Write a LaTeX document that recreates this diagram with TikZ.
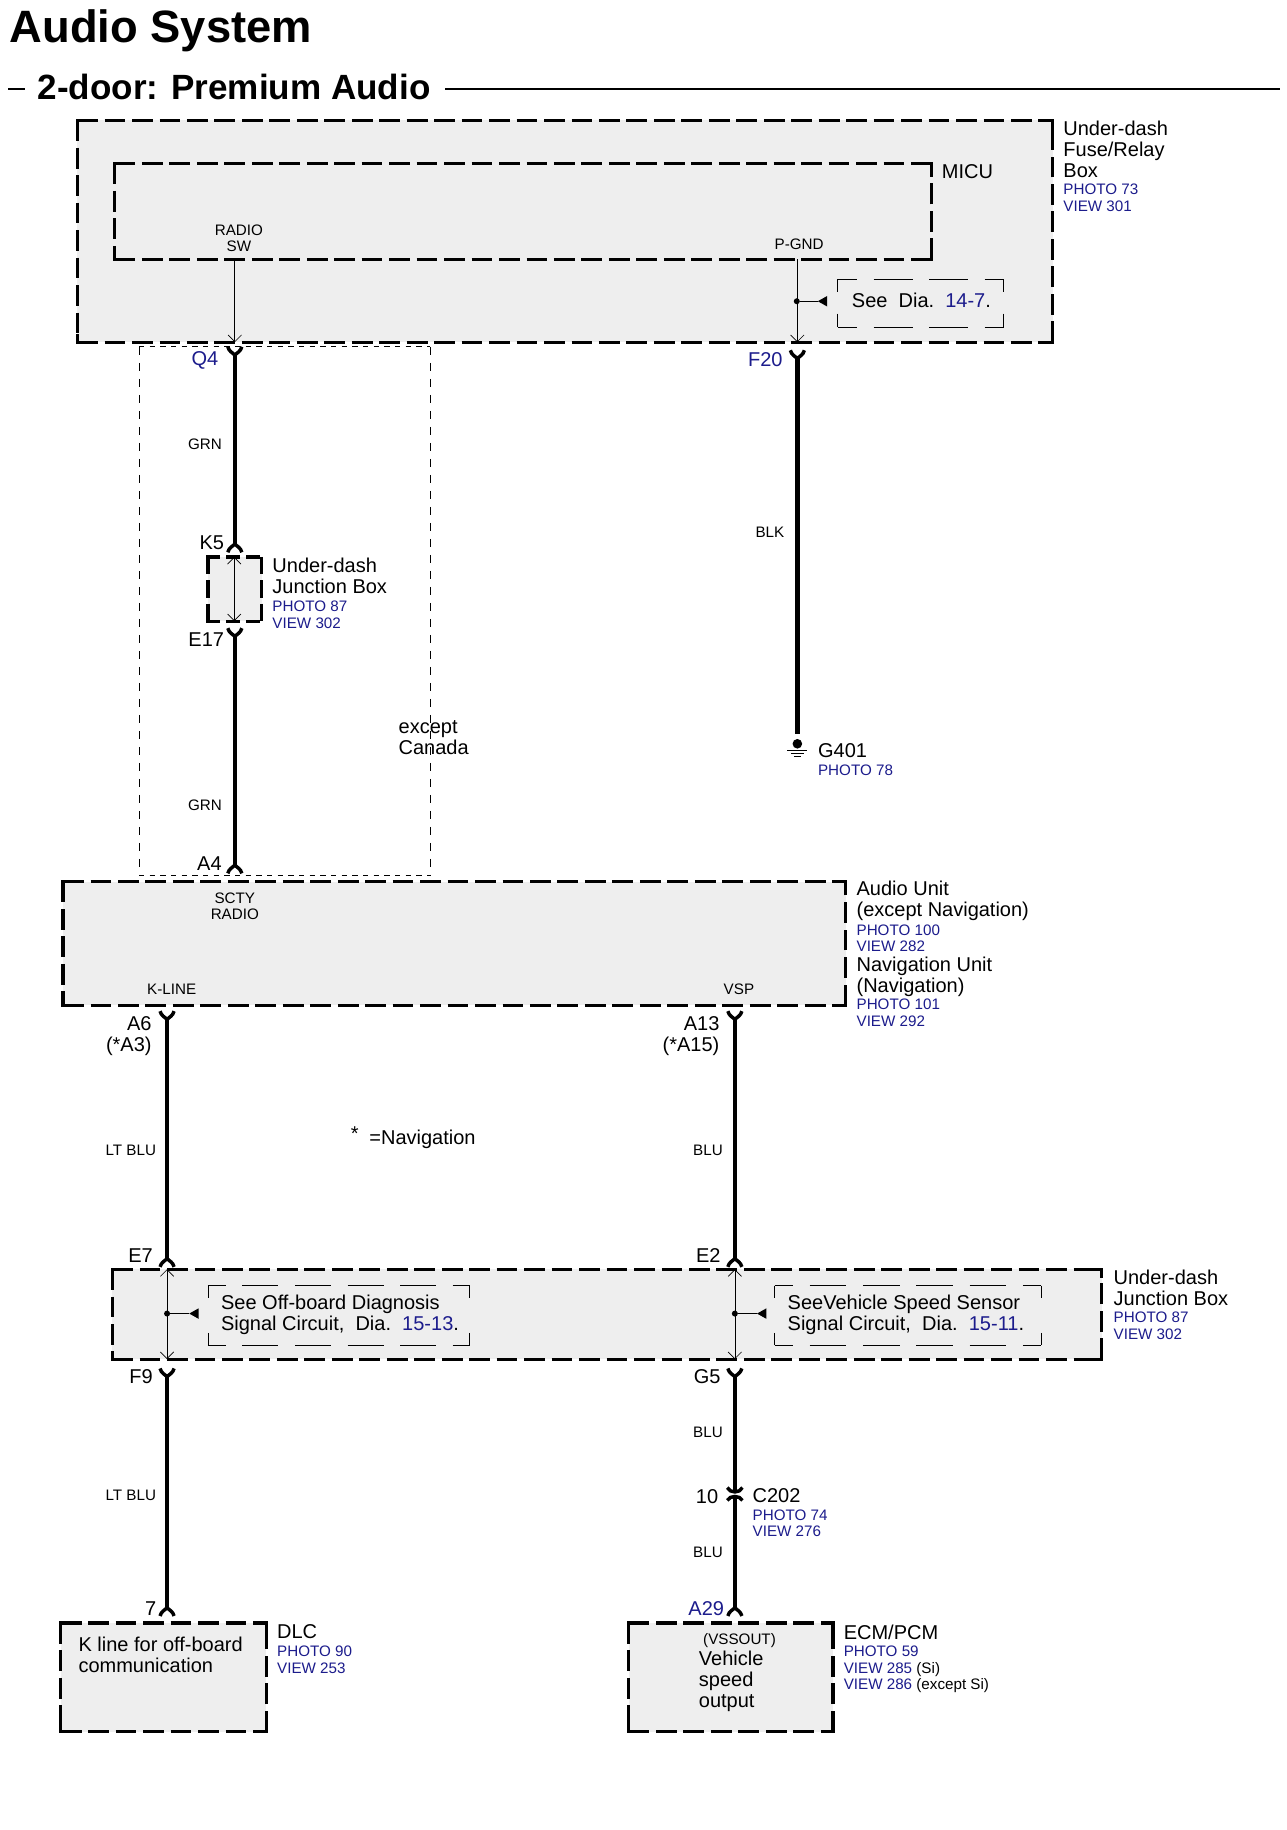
\documentclass[tikz,border=0pt]{standalone}
\usepackage{fontspec}
\setmainfont{Liberation Sans}
\definecolor{bluetxt}{HTML}{1C1C8C}
\definecolor{boxfill}{HTML}{EEEEEE}
\usetikzlibrary{arrows.meta,calc}
\newcommand{\bodysz}{\fontsize{15pt}{15.8pt}\selectfont}
\newcommand{\smallsz}{\fontsize{11.4pt}{12.3pt}\selectfont}
\newcommand{\blu}[1]{\textcolor{bluetxt}{#1}}
\tikzset{
 unitline/.style={draw=black,line width=2.4pt,dash pattern=on 15.6pt off 5pt},
 seeline/.style={draw=black,line width=0.55pt},
 areah/.style={draw=black,line width=0.45pt,dash pattern=on 4pt off 4pt},
 areav/.style={draw=black,line width=0.45pt,dash pattern=on 6pt off 6pt},
 wire/.style={line width=3.4pt},
 thinw/.style={line width=0.5pt,{Straight Barb[length=5pt,width=10pt]}-{Straight Barb[length=5pt,width=10pt]}},
 thinone/.style={line width=0.5pt,-{Straight Barb[length=5pt,width=10pt]}},
 lab/.style={inner sep=0pt,align=left,anchor=north west,font=\bodysz,yshift=-1.3pt},
 sm/.style={inner sep=0pt,align=center,font=\smallsz},
 smblu/.style={inner sep=0pt,align=left,anchor=north west,font=\smallsz,text=bluetxt,yshift=-1.4pt},
 dotn/.style={circle,fill=black,inner sep=0pt,minimum size=4.5pt},
 pinl/.style={inner sep=0pt,anchor=east,align=right,font=\bodysz},
}
\newcommand{\ypin}[1]{\draw[line width=2.6pt] ($(#1)+(-6,-6)$) .. controls ($(#1)+(-5,-2)$) and ($(#1)+(-2,-1)$) .. ($(#1)+(0,1)$) .. controls ($(#1)+(2,-1)$) and ($(#1)+(5,-2)$) .. ($(#1)+(6,-6)$);}
\newcommand{\ysock}[1]{\draw[line width=2.6pt] ($(#1)+(-6,6)$) .. controls ($(#1)+(-5,2)$) and ($(#1)+(-2,1)$) .. ($(#1)+(0,-1)$) .. controls ($(#1)+(2,1)$) and ($(#1)+(5,2)$) .. ($(#1)+(6,6)$);}
% unit box: x1 y1 x2 y2, filled, with dashed sides and solid corners
\newcommand{\unitrect}[4]{%
 \fill[boxfill] (#1,#2) rectangle (#3,#4);
 \draw[unitline] (#1,#2) -- (#3,#2);
 \draw[unitline] (#1,#4) -- (#3,#4);
 \draw[unitline] (#1,#2) -- (#1,#4);
 \draw[unitline] (#3,#4) -- (#3,#2);
 \draw[line width=2.4pt,line cap=rect] (#1,#2+6) -- (#1,#2) -- (#1+6,#2);
 \draw[line width=2.4pt,line cap=rect] (#3-6,#2) -- (#3,#2) -- (#3,#2+6);
 \draw[line width=2.4pt,line cap=rect] (#1,#4-6) -- (#1,#4) -- (#1+6,#4);
 \draw[line width=2.4pt,line cap=rect] (#3-6,#4) -- (#3,#4) -- (#3,#4-6);
}
% see box: x1 y1 x2 y2 hon hoff von voff
\newcommand{\seerect}[8]{%
 \draw[seeline,dash pattern=on #5pt off #6pt,dash phase=#5pt/2] (#1,#2) -- (#3,#2);
 \draw[seeline,dash pattern=on #5pt off #6pt,dash phase=#5pt/2] (#1,#4) -- (#3,#4);
 \draw[seeline,dash pattern=on #7pt off #8pt,dash phase=#7pt/2] (#1,#2) -- (#1,#4);
 \draw[seeline,dash pattern=on #7pt off #8pt,dash phase=#7pt/2] (#3,#2) -- (#3,#4);
}
\begin{document}
\begin{tikzpicture}[x=0.8762pt,y=-0.8757pt]
\useasboundingbox (0,0) rectangle (1100.8,1567.3);
\fill[white] (0,0) rectangle (1100.8,1567.3);
% titles
\node[anchor=base west,inner sep=0pt,font=\fontsize{34pt}{36pt}\selectfont\bfseries] (title) at (8,36.5) {Audio System};
\node[anchor=base west,inner sep=0pt,font=\fontsize{26.3pt}{28pt}\selectfont\bfseries] (sub) at (32,85) {2-door: Premium Audio};
\coordinate (dashL) at (7,76); \coordinate (dashR) at (21,76);
\draw[line width=1.6pt] (dashL) -- (dashR);
\coordinate (ruleL) at (381,76); \coordinate (ruleR) at (1096,76);
\draw[line width=1.6pt] (ruleL) -- (ruleR);
% area
\draw[areah] (119,297) -- (368,297);
\draw[areah] (119,750) -- (368,750);
\draw[areav] (119,297) -- (119,750);
\draw[areav] (368,297) -- (368,750);
% boxes
\unitrect{66}{103}{901}{293}
\unitrect{98}{140}{797}{222}
\fill[boxfill] (178,477) rectangle (224,532);
\draw[line width=2.4pt,dash pattern=on 10pt off 5pt] (176.6,477) -- (225.4,477);
\draw[line width=2.4pt,dash pattern=on 10pt off 5pt] (176.6,532) -- (225.4,532);
\draw[line width=2.4pt,dash pattern=on 13pt off 4.5pt] (178,477) -- (178,532);
\draw[line width=2.4pt,dash pattern=on 13pt off 4.5pt] (224,477) -- (224,532);
\unitrect{54}{755}{724}{861}
\unitrect{96}{1087}{943}{1164}
\unitrect{52}{1390}{228}{1483}
\unitrect{538}{1390}{713}{1483}
% coordinates
\coordinate (q4top) at (201,222); \coordinate (q4b) at (201,293);
\coordinate (q4) at (201,303); \coordinate (k5) at (201,467);
\coordinate (jt) at (200.5,477); \coordinate (jb) at (200.5,532);
\coordinate (e17) at (201,544); \coordinate (a4) at (201,742);
\coordinate (p1) at (682.5,222); \coordinate (p2) at (682.5,293);
\coordinate (f20) at (682.5,306); \coordinate (gtop) at (682.5,629);
% wires
\draw[thinone] (q4top) -- (q4b);
\draw[wire] (q4) -- (k5);
\ypin{q4}\ysock{k5}
\draw[thinw] (jt) -- (jb);
\draw[wire] (e17) -- (a4);
\ypin{e17}\ysock{a4}
\draw[thinone] (p1) -- (p2);
\draw[wire] (f20) -- (gtop);
\ypin{f20}
% ground
\node[circle,fill=black,inner sep=0pt,minimum size=7.2pt] (gnd) at (682.5,637) {};
\coordinate (g1l) at (674,642.6);\coordinate (g1r) at (691,642.6);
\coordinate (g2l) at (677,645.2);\coordinate (g2r) at (688,645.2);
\coordinate (g3l) at (679.5,648);\coordinate (g3r) at (685.5,648);
\draw[line width=.7pt] (g1l)--(g1r); \draw[line width=.7pt] (g2l)--(g2r); \draw[line width=.7pt] (g3l)--(g3r);
% See boxes
\node[dotn] (d1) at (682,258) {};
\coordinate (t1) at (700,258);
\draw[line width=0.6pt] (d1) -- (t1);
\fill (700,258) -- (708,253.5) -- (708,262.5) -- cycle;
\seerect{717}{239}{859}{280}{29.2}{12.4}{20}{16}
\node[lab] (s1) at (729,249) {See\ \ Dia.\ \ \blu{14-7}.};
% lower wires
\coordinate (kl) at (143,872); \coordinate (e7) at (143,1079);
\coordinate (v) at (629,872); \coordinate (e2) at (629,1079);
\draw[wire] (kl)--(e7); \ypin{kl}\ysock{e7}
\draw[wire] (v)--(e2); \ypin{v}\ysock{e2}
\coordinate (jt1) at (143,1087); \coordinate (jb1) at (143,1164);
\coordinate (jt2) at (629,1087); \coordinate (jb2) at (629,1164);
\draw[thinw] (jt1)--(jb1); \draw[thinw] (jt2)--(jb2);
\node[dotn] (d2) at (143,1125) {}; \node[dotn] (d3) at (629,1125) {};
\coordinate (t2) at (162,1125); \coordinate (t3) at (648,1125);
\draw[line width=.6pt] (d2)--(t2); \draw[line width=.6pt] (d3)--(t3);
\fill (162,1125) -- (170,1120.5) -- (170,1129.5) -- cycle;
\fill (648,1125) -- (656,1120.5) -- (656,1129.5) -- cycle;
\seerect{178}{1101}{402}{1152}{27}{12.4}{19}{26}
\seerect{663}{1101}{891}{1152}{27.5}{12.5}{19}{26}
\node[lab] (s2) at (189,1107) {See Off-board Diagnosis\\Signal Circuit,\ \ Dia.\ \ \blu{15-13}.};
\node[lab] (s3) at (674,1107) {SeeVehicle Speed Sensor\\Signal Circuit,\ \ Dia.\ \ \blu{15-11}.};
\coordinate (f9) at (143,1178); \coordinate (seven) at (143,1378);
\coordinate (g5) at (629,1178); \coordinate (c1) at (629,1278); \coordinate (c2) at (629,1282); \coordinate (a29) at (629,1378);
\draw[wire] (f9)--(seven); \ypin{f9}\ysock{seven}
\draw[wire] (g5)--(c1); \ypin{g5}
\draw[line width=2.6pt] (622.5,1274) .. controls (625,1279) and (633,1279) .. (635.5,1274);
\draw[line width=2.6pt] (622.5,1285) .. controls (625,1280.5) and (633,1280.5) .. (635.5,1285);
\draw[wire] (c2)--(a29); \ysock{a29}
% pin labels
\node[sm] (lradio) at (204.5,204) {RADIO\\SW};
\node[sm] (lpg) at (684,209.5) {P-GND};
\node[sm] (lsc) at (201,776) {SCTY\\RADIO};
\node[sm] (lk) at (147,847.5) {K-LINE};
\node[sm] (lv) at (632.5,847.5) {VSP};
\node[sm] (w1) at (175.5,380.5) {GRN};
\node[sm] (w2) at (175.5,689.5) {GRN};
\node[sm] (w3) at (659,456) {BLK};
\node[sm] (w4) at (112,985) {LT BLU};
\node[sm] (w5) at (606,985) {BLU};
\node[sm] (w6) at (112,1281) {LT BLU};
\node[sm] (w7) at (606,1226.5) {BLU};
\node[sm] (w8) at (606,1329.5) {BLU};
\node[pinl,text=bluetxt] (nq4) at (187,308.5) {Q4};
\node[pinl,text=bluetxt] (nf20) at (670,308) {F20};
\node[pinl] (nk5) at (192,465) {K5};
\node[pinl] (ne17) at (192,547.5) {E17};
\node[pinl] (na4) at (190,740) {A4};
\node[pinl] (na6) at (130,887) {A6\\(*A3)};
\node[pinl] (na13) at (616,887) {A13\\(*A15)};
\node[pinl] (ne7) at (131,1075) {E7};
\node[pinl] (ne2) at (617,1075) {E2};
\node[pinl] (nf9) at (131,1179) {F9};
\node[pinl] (ng5) at (617,1179) {G5};
\node[pinl] (n10) at (615,1282) {10};
\node[pinl] (n7) at (134,1378) {7};
\node[pinl,text=bluetxt] (na29) at (620,1378) {A29};
% component labels
\node[lab] (c01) at (910,102) {Under-dash\\Fuse/Relay\\Box};
\node[smblu] (c02) at (910,156) {PHOTO 73\\VIEW 301};
\node[lab] (c03) at (806,139) {MICU};
\node[lab] (c04) at (233,476) {Under-dash\\Junction Box};
\node[smblu] (c05) at (233,513) {PHOTO 87\\VIEW 302};
\node[lab] (c06) at (341,615) {except\\Canada};
\node[lab] (c07) at (700,635) {G401};
\node[smblu] (c08) at (700,653) {PHOTO 78};
\node[lab] (c09) at (733,753) {Audio Unit\\(except Navigation)};
\node[smblu] (c10) at (733,790) {PHOTO 100\\VIEW 282};
\node[lab] (c11) at (733,818) {Navigation Unit\\(Navigation)};
\node[smblu] (c12) at (733,854) {PHOTO 101\\VIEW 292};
\node[lab] (c13) at (316,966) {=Navigation};
\node[lab] (c14) at (300,963) {*};
\node[lab] (c15) at (953,1086) {Under-dash\\Junction Box};
\node[smblu] (c16) at (953,1122) {PHOTO 87\\VIEW 302};
\node[lab] (c17) at (644,1273) {C202};
\node[smblu] (c18) at (644,1291) {PHOTO 74\\VIEW 276};
\node[lab] (c19) at (237,1390) {DLC};
\node[smblu] (c20) at (237,1408) {PHOTO 90\\VIEW 253};
\node[lab] (c21) at (722,1390) {ECM/PCM};
\node[smblu] (c22) at (722,1408) {PHOTO 59\\VIEW 285 \textcolor{black}{(Si)}\\VIEW 286 \textcolor{black}{(except Si)}};
\node[lab] (c23) at (67,1400) {K line for off-board\\communication};
\node[sm] (c24) at (633,1405) {(VSSOUT)};
\node[lab] (c25) at (598,1412) {Vehicle\\speed\\output};
\end{tikzpicture}
\end{document}
